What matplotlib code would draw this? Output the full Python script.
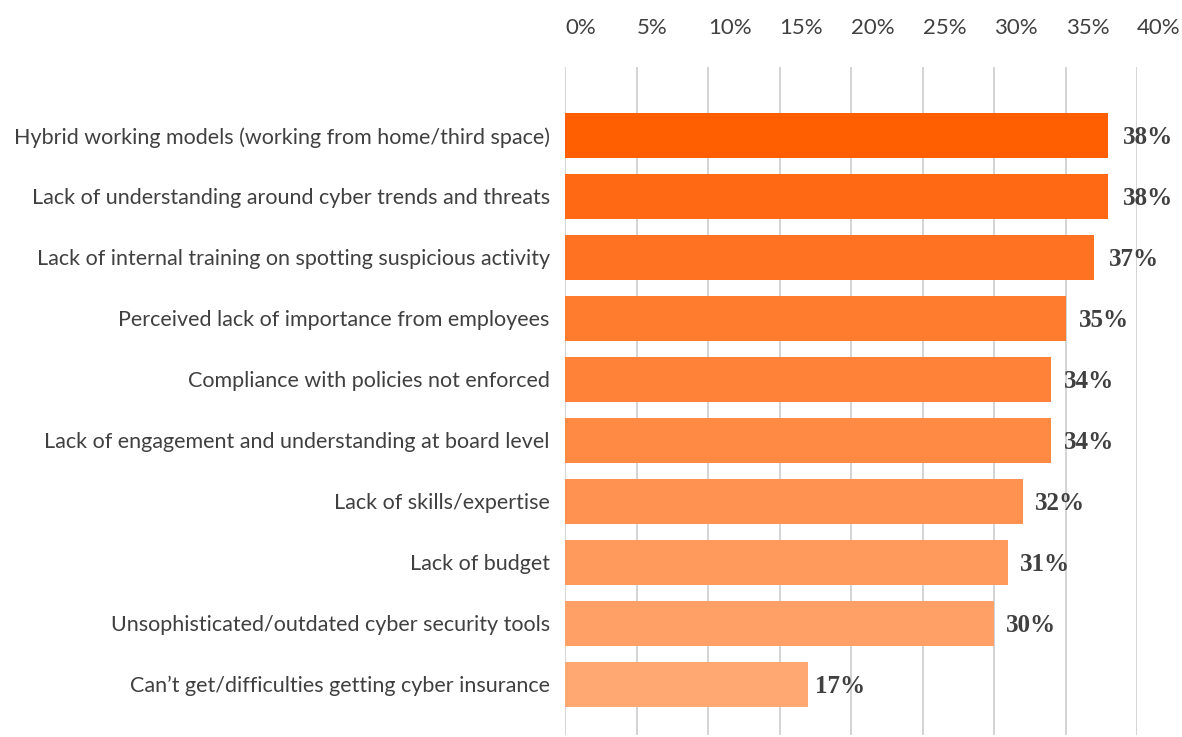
import matplotlib
matplotlib.use("Agg")
from matplotlib import pyplot as plt
from matplotlib.ticker import FuncFormatter, MultipleLocator

# Survey data: barriers to cyber security, share of respondents (%)
categories = [
    "Hybrid working models (working from home/third space)",
    "Lack of understanding around cyber trends and threats",
    "Lack of internal training on spotting suspicious activity",
    "Perceived lack of importance from employees",
    "Compliance with policies not enforced",
    "Lack of engagement and understanding at board level",
    "Lack of skills/expertise",
    "Lack of budget",
    "Unsophisticated/outdated cyber security tools",
    "Can\u2019t get/difficulties getting cyber insurance",
]
values = [38, 38, 37, 35, 34, 34, 32, 31, 30, 17]

bar_colors = ["#ff5f00", "#ff6913", "#ff7221", "#ff7b2d", "#ff8238",
              "#ff8a44", "#ff9250", "#ff9a5c", "#ffa166", "#ffa872"]

text_color = "#404040"
grid_color = "#c9c9c9"

fig = plt.figure(figsize=(11.82, 7.37), dpi=100)
ax = fig.add_axes([0.478, 0.003, 0.484, 0.906])

ypos = list(range(len(categories)))
ax.barh(ypos, values, height=0.74, color=bar_colors, zorder=2)

ax.set_xlim(0, 40)
ax.set_ylim(9.83, -1.12)

ax.xaxis.set_major_locator(MultipleLocator(5))
ax.xaxis.set_major_formatter(FuncFormatter(lambda v, _: f"{v:.0f}%"))
ax.xaxis.tick_top()
ax.tick_params(axis="x", length=0, pad=21, labelsize=16, labelcolor=text_color)
for lbl in ax.get_xticklabels():
    lbl.set_horizontalalignment("left")
    lbl.set_family("Lato")

ax.set_yticks(ypos)
ax.set_yticklabels(categories, family="Lato", fontsize=15.5, color=text_color)
ax.tick_params(axis="y", length=0, pad=11)
for lbl in ax.get_yticklabels():
    lbl.set_verticalalignment("center_baseline")

ax.grid(axis="x", color=grid_color, linewidth=1.1, zorder=0)
for side in ax.spines.values():
    side.set_visible(False)

# value labels after each bar
for y, v in zip(ypos, values):
    ax.text(v * 1.027, y + 0.03, f"{v}%", ha="left", va="center",
            family="Liberation Serif", fontweight="bold",
            fontsize=18, color=text_color)

fig.savefig("out.png", dpi=100, facecolor="white")
